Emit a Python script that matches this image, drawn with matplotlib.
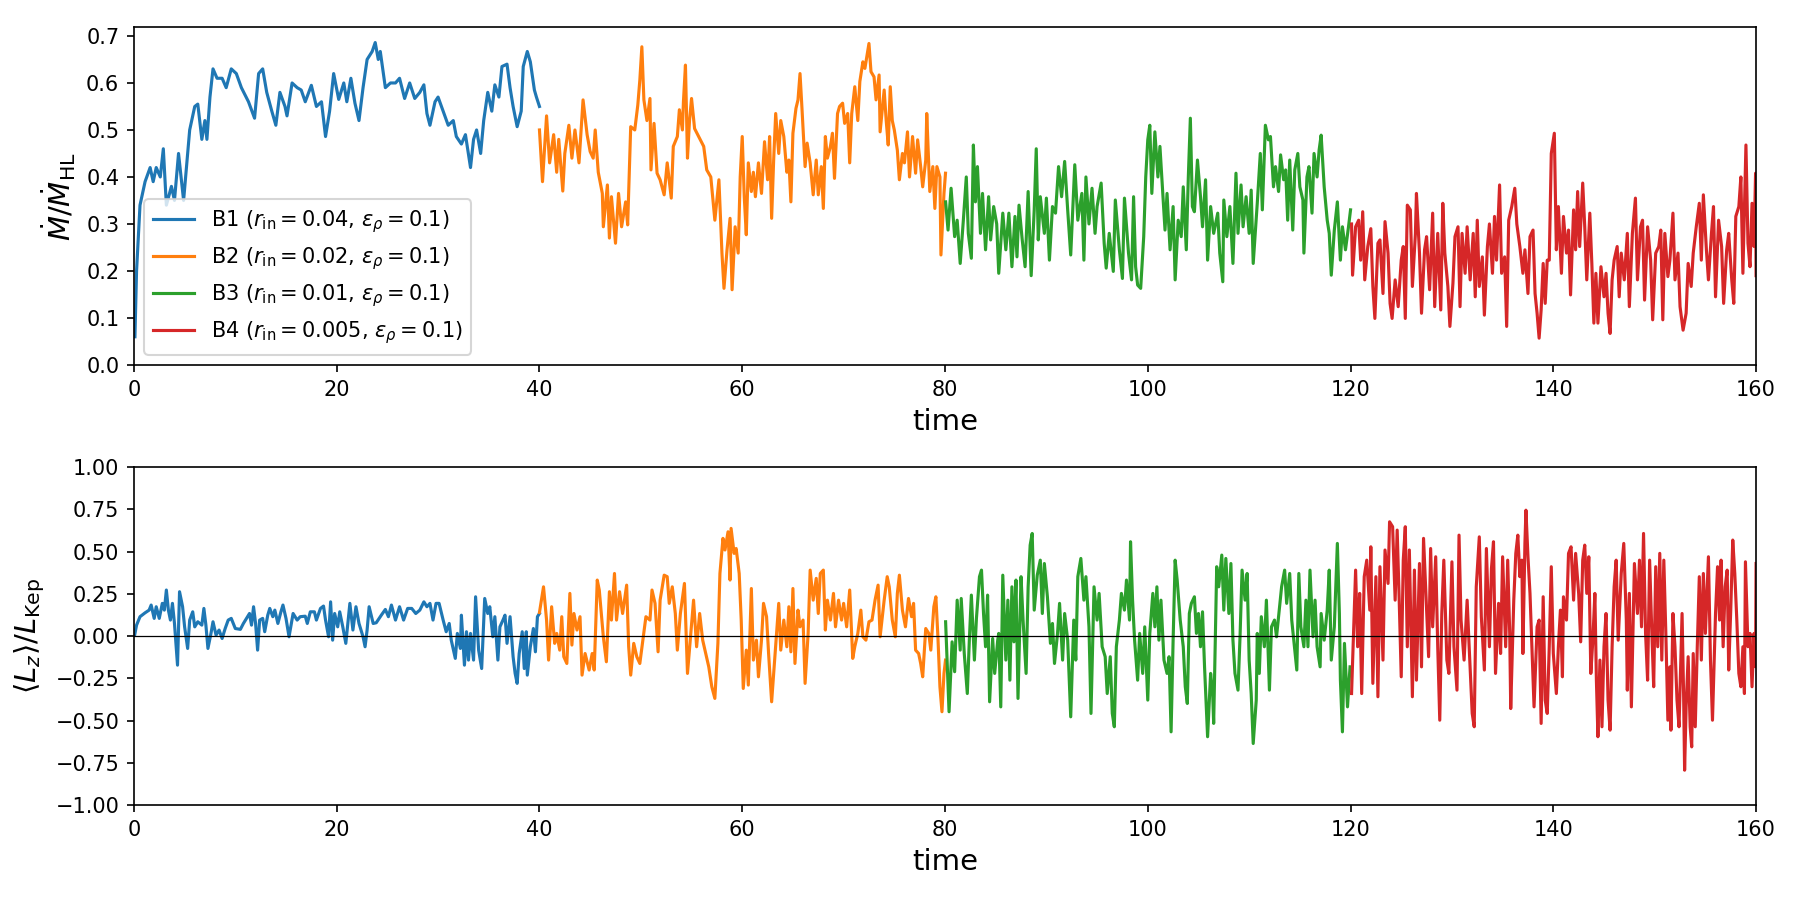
import numpy as np
import matplotlib
matplotlib.use("Agg")
import matplotlib.pyplot as plt

# accretion rate, (time, Mdot/Mdot_HL)
b1_mdot = [(0.1, 0.06), (0.26, 0.20), (0.6, 0.34), (1.1, 0.39), (1.6, 0.42), (1.9, 0.39), (2.2, 0.42),
           (2.6, 0.40), (2.9, 0.46), (3.2, 0.34), (3.7, 0.38), (4.0, 0.35), (4.4, 0.45), (4.9, 0.35),
           (5.5, 0.50), (6.0, 0.55), (6.3, 0.555), (6.7, 0.48), (7.0, 0.52), (7.2, 0.48), (7.5, 0.57),
           (7.8, 0.63), (8.2, 0.61), (8.7, 0.61), (9.1, 0.59), (9.6, 0.63), (10.1, 0.62), (10.6, 0.59),
           (11.3, 0.56), (11.9, 0.525), (12.3, 0.62), (12.7, 0.63), (13.1, 0.58), (13.6, 0.54),
           (14.0, 0.51), (14.4, 0.58), (14.9, 0.55), (15.1, 0.53), (15.6, 0.60), (16.1, 0.59),
           (16.5, 0.585), (16.9, 0.56), (17.5, 0.595), (18.0, 0.55), (18.5, 0.56), (18.9, 0.486),
           (19.3, 0.54), (19.7, 0.62), (20.2, 0.565), (20.7, 0.60), (21.0, 0.56), (21.4, 0.61),
           (21.8, 0.557), (22.2, 0.52), (22.6, 0.59), (23.0, 0.65), (23.5, 0.667), (23.8, 0.686),
           (24.1, 0.65), (24.3, 0.667), (24.8, 0.59), (25.3, 0.60), (25.8, 0.60), (26.2, 0.61),
           (26.7, 0.567), (27.2, 0.60), (27.7, 0.567), (28.2, 0.58), (28.6, 0.596), (28.9, 0.535),
           (29.2, 0.51), (29.7, 0.56), (30.0, 0.57), (30.5, 0.54), (31.0, 0.51), (31.5, 0.52),
           (31.8, 0.486), (32.3, 0.47), (32.7, 0.49), (33.2, 0.42), (33.5, 0.48), (33.8, 0.50),
           (34.2, 0.45), (34.5, 0.52), (34.9, 0.58), (35.3, 0.54), (35.6, 0.596), (36.0, 0.57),
           (36.3, 0.635), (36.8, 0.64), (37.1, 0.59), (37.4, 0.55), (37.8, 0.507), (38.2, 0.54),
           (38.4, 0.635), (38.8, 0.667), (39.1, 0.645), (39.5, 0.585), (39.7, 0.57), (40.0, 0.55)]

b2_mdot = [(40.0, 0.50), (40.3, 0.39), (40.7, 0.53), (41.0, 0.43), (41.4, 0.49), (41.7, 0.41),
           (41.9, 0.48), (42.3, 0.37), (42.5, 0.45), (42.9, 0.51), (43.2, 0.44), (43.5, 0.50),
           (43.9, 0.43), (44.3, 0.564), (44.7, 0.49), (45.0, 0.454), (45.3, 0.44), (45.5, 0.50),
           (45.8, 0.41), (46.2, 0.365), (46.3, 0.294), (46.7, 0.383), (46.9, 0.27), (47.1, 0.358),
           (47.5, 0.259), (47.8, 0.365), (48.1, 0.294), (48.5, 0.347), (48.7, 0.298), (49.0, 0.507),
           (49.4, 0.50), (49.7, 0.553), (49.9, 0.606), (50.1, 0.677), (50.3, 0.564), (50.6, 0.52),
           (50.9, 0.567), (51.0, 0.415), (51.3, 0.514), (51.6, 0.408), (51.9, 0.394), (52.3, 0.362),
           (52.6, 0.43), (53.0, 0.355), (53.2, 0.465), (53.6, 0.486), (53.8, 0.543), (54.1, 0.50),
           (54.2, 0.56), (54.4, 0.638), (54.6, 0.44), (54.8, 0.52), (55.0, 0.567), (55.3, 0.503),
           (55.7, 0.486), (56.2, 0.465), (56.5, 0.415), (56.9, 0.40), (57.3, 0.308), (57.7, 0.394),
           (58.0, 0.238), (58.2, 0.163), (58.5, 0.245), (58.8, 0.312), (59.0, 0.16), (59.3, 0.294),
           (59.6, 0.238), (59.8, 0.40), (60.0, 0.486), (60.2, 0.358), (60.4, 0.277), (60.6, 0.43),
           (60.9, 0.369), (61.1, 0.41), (61.3, 0.358), (61.6, 0.43), (61.9, 0.365), (62.2, 0.475),
           (62.5, 0.394), (62.7, 0.486), (62.9, 0.312), (63.1, 0.436), (63.3, 0.535), (63.6, 0.45),
           (63.8, 0.52), (64.1, 0.486), (64.4, 0.41), (64.6, 0.436), (64.8, 0.347), (65.0, 0.493),
           (65.3, 0.546), (65.5, 0.564), (65.7, 0.62), (65.9, 0.543), (66.2, 0.422), (66.4, 0.472),
           (66.7, 0.43), (67.0, 0.362), (67.3, 0.436), (67.5, 0.362), (67.8, 0.422), (68.0, 0.333),
           (68.2, 0.486), (68.4, 0.44), (68.7, 0.465), (68.9, 0.493), (69.1, 0.397), (69.4, 0.535),
           (69.6, 0.55), (69.9, 0.557), (70.1, 0.514), (70.4, 0.535), (70.6, 0.43), (70.8, 0.535),
           (71.1, 0.592), (71.4, 0.52), (71.6, 0.603), (71.9, 0.645), (72.1, 0.631), (72.5, 0.684),
           (72.7, 0.624), (73.0, 0.613), (73.2, 0.564), (73.5, 0.617), (73.6, 0.496), (74.0, 0.585),
           (74.2, 0.52), (74.4, 0.468), (74.6, 0.592), (74.8, 0.52), (75.0, 0.50), (75.3, 0.457),
           (75.5, 0.394), (75.8, 0.45), (76.0, 0.43), (76.3, 0.496), (76.5, 0.40), (76.8, 0.486),
           (77.1, 0.408), (77.3, 0.479), (77.6, 0.422), (77.8, 0.379), (78.1, 0.436), (78.2, 0.535),
           (78.5, 0.369), (78.8, 0.422), (79.0, 0.333), (79.2, 0.422), (79.5, 0.40), (79.6, 0.234),
           (79.9, 0.365), (80.05, 0.408)]

b3_mdot = [(80.06, 0.347), (80.3, 0.287), (80.6, 0.376), (80.95, 0.273), (81.2, 0.308), (81.5, 0.216),
           (81.8, 0.305), (82.1, 0.40), (82.3, 0.28), (82.6, 0.227), (82.8, 0.468), (83.0, 0.347),
           (83.2, 0.422), (83.5, 0.28), (83.7, 0.365), (84.0, 0.245), (84.3, 0.358), (84.5, 0.266),
           (84.8, 0.337), (85.1, 0.30), (85.3, 0.195), (85.7, 0.323), (86.0, 0.245), (86.3, 0.323),
           (86.6, 0.209), (86.9, 0.316), (87.1, 0.23), (87.3, 0.34), (87.6, 0.27), (87.9, 0.209),
           (88.2, 0.369), (88.5, 0.19), (88.8, 0.33), (89.0, 0.46), (89.2, 0.266), (89.4, 0.358),
           (89.8, 0.28), (90.0, 0.355), (90.3, 0.223), (90.6, 0.337), (90.9, 0.323), (91.2, 0.422),
           (91.5, 0.358), (91.8, 0.433), (92.1, 0.33), (92.4, 0.234), (92.8, 0.426), (93.1, 0.308),
           (93.5, 0.365), (93.7, 0.223), (93.9, 0.40), (94.2, 0.30), (94.5, 0.376), (94.8, 0.28),
           (95.0, 0.337), (95.4, 0.387), (95.7, 0.259), (95.9, 0.206), (96.2, 0.28), (96.6, 0.199),
           (96.8, 0.351), (97.2, 0.245), (97.5, 0.184), (97.7, 0.355), (98.1, 0.238), (98.4, 0.181),
           (98.6, 0.358), (98.8, 0.209), (99.0, 0.17), (99.3, 0.163), (99.6, 0.273), (99.8, 0.40),
           (100.0, 0.479), (100.2, 0.51), (100.4, 0.365), (100.7, 0.496), (101.0, 0.40), (101.2, 0.465),
           (101.4, 0.394), (101.7, 0.287), (101.9, 0.365), (102.2, 0.245), (102.5, 0.337), (102.7, 0.181),
           (103.0, 0.308), (103.3, 0.273), (103.5, 0.379), (103.8, 0.245), (104.0, 0.40), (104.2, 0.525),
           (104.4, 0.337), (104.6, 0.326), (104.9, 0.436), (105.2, 0.358), (105.4, 0.294), (105.7, 0.394),
           (105.9, 0.223), (106.2, 0.337), (106.5, 0.28), (106.9, 0.323), (107.1, 0.238), (107.4, 0.177),
           (107.5, 0.351), (107.8, 0.273), (108.1, 0.337), (108.4, 0.216), (108.7, 0.408), (108.9, 0.28),
           (109.2, 0.383), (109.4, 0.294), (109.7, 0.358), (110.0, 0.28), (110.2, 0.372), (110.4, 0.216),
           (110.8, 0.344), (111.1, 0.45), (111.3, 0.33), (111.6, 0.51), (111.9, 0.479), (112.1, 0.486),
           (112.4, 0.379), (112.6, 0.422), (112.9, 0.369), (113.1, 0.447), (113.4, 0.394), (113.6, 0.415),
           (113.8, 0.308), (114.0, 0.436), (114.3, 0.287), (114.5, 0.415), (114.8, 0.45), (115.0, 0.379),
           (115.3, 0.351), (115.4, 0.238), (115.7, 0.40), (115.9, 0.422), (116.2, 0.323), (116.4, 0.45),
           (116.7, 0.40), (116.9, 0.457), (117.1, 0.489), (117.4, 0.379), (117.7, 0.308), (117.9, 0.28),
           (118.1, 0.191), (118.4, 0.287), (118.7, 0.347), (119.0, 0.223), (119.2, 0.294), (119.5, 0.245),
           (119.8, 0.294), (120.0, 0.33)]

b4_mdot = [(120.1, 0.30), (120.2, 0.191), (120.5, 0.294), (120.8, 0.308), (121.0, 0.223), (121.2, 0.326),
           (121.4, 0.181), (121.7, 0.252), (122.0, 0.29), (122.2, 0.167), (122.4, 0.099), (122.7, 0.259),
           (122.9, 0.266), (123.2, 0.152), (123.4, 0.305), (123.7, 0.238), (123.9, 0.131), (124.1, 0.099),
           (124.4, 0.181), (124.7, 0.124), (125.0, 0.223), (125.2, 0.252), (125.4, 0.099), (125.6, 0.34),
           (125.9, 0.33), (126.1, 0.167), (126.4, 0.28), (126.5, 0.365), (126.8, 0.238), (127.0, 0.11),
           (127.3, 0.245), (127.5, 0.273), (127.8, 0.16), (128.1, 0.323), (128.3, 0.124), (128.6, 0.28),
           (128.9, 0.117), (129.1, 0.344), (129.3, 0.238), (129.6, 0.167), (129.8, 0.082), (130.1, 0.174),
           (130.3, 0.273), (130.6, 0.294), (130.8, 0.124), (131.0, 0.28), (131.3, 0.195), (131.5, 0.294),
           (131.8, 0.181), (132.1, 0.28), (132.3, 0.145), (132.5, 0.308), (132.7, 0.167), (133.0, 0.23),
           (133.2, 0.106), (133.5, 0.252), (133.7, 0.30), (134.0, 0.195), (134.2, 0.316), (134.4, 0.223),
           (134.7, 0.383), (134.9, 0.195), (135.2, 0.23), (135.4, 0.082), (135.6, 0.308), (135.9, 0.337),
           (136.2, 0.376), (136.4, 0.30), (136.7, 0.252), (137.0, 0.195), (137.2, 0.245), (137.5, 0.152),
           (137.7, 0.273), (138.0, 0.287), (138.2, 0.152), (138.4, 0.11), (138.6, 0.057), (138.8, 0.117),
           (139.0, 0.216), (139.2, 0.131), (139.4, 0.223), (139.6, 0.223), (139.8, 0.45), (140.1, 0.493),
           (140.3, 0.245), (140.5, 0.337), (140.8, 0.195), (141.0, 0.316), (141.3, 0.238), (141.5, 0.287),
           (141.7, 0.149), (142.0, 0.33), (142.2, 0.245), (142.4, 0.369), (142.6, 0.252), (142.9, 0.387),
           (143.1, 0.294), (143.3, 0.181), (143.6, 0.323), (143.8, 0.216), (144.0, 0.089), (144.2, 0.195),
           (144.4, 0.089), (144.7, 0.209), (145.0, 0.145), (145.2, 0.195), (145.4, 0.11), (145.6, 0.067),
           (145.8, 0.181), (146.0, 0.223), (146.3, 0.252), (146.5, 0.145), (146.7, 0.238), (147.0, 0.181),
           (147.3, 0.28), (147.5, 0.124), (147.8, 0.28), (148.1, 0.355), (148.3, 0.181), (148.6, 0.294),
           (148.8, 0.308), (149.0, 0.138), (149.3, 0.294), (149.6, 0.223), (149.8, 0.096), (150.1, 0.238),
           (150.4, 0.252), (150.6, 0.287), (150.8, 0.096), (151.0, 0.28), (151.3, 0.188), (151.5, 0.223),
           (151.8, 0.323), (152.0, 0.181), (152.3, 0.238), (152.5, 0.124), (152.8, 0.074), (153.1, 0.11),
           (153.3, 0.216), (153.6, 0.167), (153.8, 0.238), (154.1, 0.294), (154.4, 0.344), (154.6, 0.223),
           (154.8, 0.362), (155.1, 0.245), (155.3, 0.181), (155.6, 0.28), (155.8, 0.337), (156.0, 0.145),
           (156.3, 0.308), (156.6, 0.252), (156.8, 0.131), (157.1, 0.245), (157.3, 0.28), (157.6, 0.181),
           (157.8, 0.131), (158.0, 0.316), (158.3, 0.337), (158.5, 0.40), (158.7, 0.195), (158.9, 0.379),
           (159.0, 0.468), (159.2, 0.259), (159.4, 0.209), (159.6, 0.344), (159.8, 0.252), (159.95, 0.408),
           (160.0, 0.19)]

# angular momentum, (time, <Lz>/L_Kep)
b1_lz = [(0.07, 0.006), (0.26, 0.065), (0.6, 0.115), (1.1, 0.138), (1.5, 0.154), (1.7, 0.184), (2.0, 0.105),
         (2.2, 0.174), (2.5, 0.105), (2.8, 0.194), (3.0, 0.154), (3.2, 0.273), (3.4, 0.154), (3.6, 0.095),
         (3.8, 0.194), (4.0, 0.075), (4.3, -0.172), (4.5, 0.263), (4.8, 0.174), (5.0, 0.055), (5.3, -0.073),
         (5.5, 0.095), (5.8, 0.144), (6.0, 0.055), (6.3, 0.085), (6.7, 0.065), (6.9, 0.164), (7.1, 0.065),
         (7.3, -0.073), (7.6, 0.016), (7.8, 0.085), (8.1, 0.006), (8.4, 0.036), (8.7, -0.014), (9.0, 0.045),
         (9.3, 0.095), (9.6, 0.105), (10.0, 0.045), (10.5, 0.04), (10.8, 0.075), (11.1, 0.105), (11.4, 0.134),
         (11.6, 0.065), (11.8, 0.174), (12.0, 0.075), (12.2, -0.083), (12.4, 0.095), (12.7, 0.105),
         (12.9, 0.026), (13.2, 0.124), (13.4, 0.164), (13.7, 0.115), (13.9, 0.154), (14.2, 0.075),
         (14.5, 0.144), (14.7, 0.184), (15.0, 0.105), (15.3, -0.004), (15.7, 0.134), (16.1, 0.095),
         (16.4, 0.115), (16.9, 0.118), (17.1, 0.075), (17.4, 0.144), (17.8, 0.144), (18.0, 0.095),
         (18.4, 0.164), (18.7, 0.178), (18.9, 0.095), (19.2, -0.004), (19.4, 0.203), (19.6, -0.024),
         (19.8, 0.134), (20.1, 0.055), (20.3, 0.144), (20.6, 0.055), (20.9, -0.043), (21.3, 0.194),
         (21.6, 0.036), (21.9, 0.174), (22.2, 0.075), (22.6, -0.004), (22.8, -0.063), (23.0, 0.036),
         (23.2, 0.174), (23.6, 0.075), (23.9, 0.079), (24.4, 0.124), (24.8, 0.158), (25.1, 0.115),
         (25.4, 0.184), (25.8, 0.095), (26.2, 0.174), (26.6, 0.095), (27.0, 0.164), (27.4, 0.164),
         (27.8, 0.134), (28.2, 0.154), (28.6, 0.203), (28.9, 0.174), (29.2, 0.194), (29.5, 0.095),
         (29.8, 0.194), (30.1, 0.194), (30.5, 0.095), (30.8, 0.026), (31.1, 0.075), (31.3, -0.024),
         (31.7, -0.132), (31.9, 0.016), (32.2, -0.073), (32.3, 0.124), (32.6, -0.172), (32.8, 0.026),
         (33.0, -0.142), (33.2, 0.016), (33.5, -0.142), (33.7, 0.233), (34.0, -0.083), (34.3, -0.192),
         (34.6, 0.223), (34.9, 0.134), (35.1, 0.174), (35.4, -0.004), (35.6, 0.115), (35.9, -0.142),
         (36.1, 0.055), (36.4, 0.095), (36.6, 0.124), (36.8, -0.043), (37.1, 0.115), (37.4, -0.122),
         (37.6, -0.221), (37.8, -0.28), (38.0, -0.103), (38.3, 0.026), (38.5, -0.192), (38.7, 0.026),
         (38.8, -0.231), (39.1, -0.063), (39.4, 0.045), (39.6, -0.093), (39.8, 0.115), (40.0, 0.134)]

b2_lz = [(40.0, 0.14), (40.4, 0.292), (40.7, 0.095), (40.9, -0.142), (41.2, 0.174), (41.5, -0.043),
         (41.7, 0.016), (42.0, -0.083), (42.2, 0.115), (42.4, -0.122), (42.7, -0.162), (43.0, 0.253),
         (43.2, -0.053), (43.4, 0.134), (43.7, 0.036), (44.0, 0.115), (44.2, -0.231), (44.5, -0.103),
         (44.9, -0.201), (45.2, -0.103), (45.4, -0.201), (45.7, 0.332), (45.9, 0.273), (46.3, -0.004),
         (46.6, -0.152), (46.9, 0.263), (47.1, 0.095), (47.4, 0.371), (47.6, 0.095), (47.9, 0.263),
         (48.2, 0.134), (48.6, 0.302), (48.8, -0.063), (49.0, -0.231), (49.3, -0.043), (49.6, -0.122),
         (49.9, -0.162), (50.2, -0.024), (50.5, 0.115), (50.9, 0.095), (51.1, 0.273), (51.4, 0.194),
         (51.7, -0.093), (51.9, 0.213), (52.3, 0.361), (52.6, 0.352), (52.8, 0.194), (53.1, 0.292),
         (53.4, 0.134), (53.6, -0.083), (53.9, 0.134), (54.3, 0.312), (54.6, -0.221), (54.9, -0.004),
         (55.2, 0.213), (55.5, -0.063), (55.8, 0.134), (56.1, -0.024), (56.4, -0.103), (56.7, -0.182),
         (57.0, -0.30), (57.3, -0.369), (57.6, -0.043), (57.8, 0.371), (58.1, 0.579), (58.3, 0.51),
         (58.6, 0.618), (58.8, 0.332), (58.9, 0.638), (59.2, 0.49), (59.4, 0.519), (59.7, 0.371),
         (59.9, 0.095), (60.1, -0.31), (60.4, -0.083), (60.6, -0.29), (60.9, 0.282), (61.1, -0.142),
         (61.4, -0.024), (61.6, -0.241), (61.9, -0.024), (62.1, 0.194), (62.4, 0.115), (62.6, -0.103),
         (62.9, -0.389), (63.2, -0.142), (63.4, 0.016), (63.6, 0.194), (63.8, -0.083), (64.1, 0.095),
         (64.4, -0.063), (64.6, 0.174), (64.8, -0.093), (65.0, 0.282), (65.2, -0.162), (65.5, 0.154),
         (65.7, 0.055), (66.0, 0.095), (66.2, -0.28), (66.5, 0.016), (66.7, 0.391), (67.0, 0.213),
         (67.3, 0.342), (67.5, 0.134), (67.7, 0.371), (68.0, 0.391), (68.2, 0.036), (68.4, 0.213),
         (68.7, 0.095), (69.0, 0.253), (69.2, 0.055), (69.5, 0.213), (69.8, 0.095), (70.0, 0.194),
         (70.3, 0.055), (70.6, 0.273), (70.9, -0.132), (71.1, -0.063), (71.4, 0.016), (71.7, 0.154),
         (71.9, -0.004), (72.2, -0.024), (72.5, 0.085), (72.8, 0.095), (73.1, 0.213), (73.4, 0.302),
         (73.6, -0.004), (74.0, 0.213), (74.3, 0.352), (74.5, 0.292), (74.8, 0.095), (75.1, -0.004),
         (75.3, 0.253), (75.5, 0.361), (75.8, 0.154), (76.1, 0.055), (76.4, 0.223), (76.7, 0.115),
         (76.9, 0.194), (77.1, -0.083), (77.4, -0.103), (77.6, -0.162), (77.8, -0.241), (78.1, 0.045),
         (78.4, 0.016), (78.6, -0.083), (78.9, 0.174), (79.1, 0.233), (79.3, -0.004), (79.5, -0.30),
         (79.7, -0.448), (79.9, -0.221), (80.05, -0.142)]

b3_lz = [(80.06, 0.085), (80.4, -0.448), (80.7, -0.034), (80.95, -0.211), (81.2, 0.213), (81.5, -0.083),
         (81.6, 0.223), (81.9, -0.103), (82.2, -0.34), (82.4, -0.024), (82.6, 0.243), (82.9, -0.142),
         (83.1, 0.105), (83.4, 0.352), (83.6, 0.391), (83.8, 0.134), (84.0, -0.063), (84.2, 0.243),
         (84.4, -0.389), (84.7, -0.014), (84.9, -0.221), (85.2, -0.024), (85.3, 0.016), (85.5, -0.419),
         (85.7, 0.361), (86.0, -0.142), (86.2, 0.213), (86.4, -0.261), (86.6, 0.292), (86.8, -0.034),
         (87.0, 0.332), (87.2, -0.369), (87.5, 0.352), (87.7, 0.095), (88.0, -0.221), (88.2, 0.292),
         (88.4, 0.539), (88.6, 0.608), (88.8, 0.154), (89.1, 0.361), (89.4, 0.45), (89.6, 0.134),
         (89.8, 0.43), (90.1, 0.233), (90.4, -0.043), (90.6, 0.075), (90.8, -0.162), (91.1, 0.016),
         (91.3, 0.194), (91.6, -0.142), (91.8, 0.134), (92.1, -0.024), (92.4, -0.478), (92.7, 0.095),
         (92.9, -0.142), (93.1, 0.352), (93.4, 0.46), (93.7, 0.213), (93.9, 0.352), (94.2, 0.055),
         (94.4, -0.458), (94.7, 0.292), (95.0, 0.095), (95.2, 0.253), (95.5, -0.063), (95.8, -0.122),
         (96.0, -0.34), (96.3, -0.122), (96.5, -0.458), (96.7, -0.537), (96.9, -0.063), (97.2, 0.095),
         (97.4, 0.253), (97.7, 0.154), (97.9, 0.332), (98.2, 0.095), (98.3, 0.559), (98.5, 0.213),
         (98.7, -0.024), (99.0, -0.261), (99.2, 0.016), (99.5, -0.221), (99.7, 0.055), (100.0, -0.379),
         (100.2, 0.016), (100.5, 0.253), (100.7, 0.055), (100.9, 0.292), (101.1, -0.024), (101.3, 0.213),
         (101.6, -0.142), (101.9, -0.221), (102.1, -0.122), (102.3, -0.567), (102.5, -0.024), (102.7, 0.45),
         (102.9, 0.332), (103.2, 0.095), (103.5, -0.063), (103.7, -0.30), (103.9, -0.399), (104.1, 0.134),
         (104.3, 0.194), (104.6, 0.233), (104.8, 0.016), (105.0, 0.134), (105.2, -0.063), (105.4, 0.144),
         (105.6, -0.182), (105.9, -0.596), (106.2, -0.221), (106.4, -0.34), (106.5, -0.517), (106.8, 0.411),
         (107.0, 0.292), (107.3, 0.48), (107.5, 0.154), (107.7, 0.46), (108.0, 0.134), (108.2, 0.43),
         (108.4, -0.024), (108.6, -0.221), (108.9, -0.32), (109.1, -0.004), (109.3, 0.391), (109.6, 0.213),
         (109.8, 0.371), (110.0, -0.142), (110.2, -0.34), (110.4, -0.636), (110.7, -0.379), (110.8, 0.016),
         (111.0, -0.221), (111.2, 0.115), (111.5, -0.063), (111.7, 0.213), (112.0, -0.32), (112.2, 0.055),
         (112.5, 0.095), (112.7, -0.004), (113.0, 0.174), (113.2, 0.292), (113.5, 0.391), (113.7, 0.194),
         (114.0, 0.371), (114.2, 0.095), (114.4, -0.024), (114.7, -0.201), (114.9, 0.371), (115.1, 0.055),
         (115.4, -0.063), (115.6, 0.213), (115.8, -0.063), (116.0, 0.391), (116.3, -0.004), (116.5, 0.213),
         (116.7, -0.063), (117.0, -0.182), (117.1, 0.134), (117.4, -0.024), (117.7, 0.154), (117.9, 0.391),
         (118.1, -0.142), (118.4, 0.055), (118.7, 0.549), (118.9, 0.134), (119.0, -0.261), (119.2, -0.567),
         (119.4, -0.043), (119.7, -0.419), (119.95, -0.182)]

b4_lz = [(120.1, -0.34), (120.5, 0.391), (120.7, -0.063), (120.9, 0.253), (121.1, -0.34), (121.35, 0.352),
         (121.6, 0.45), (121.9, 0.154), (122.0, 0.529), (122.2, -0.28), (122.5, 0.352), (122.7, -0.359),
         (122.9, 0.411), (123.2, -0.142), (123.4, 0.51), (123.7, 0.312), (123.85, 0.677), (124.15, 0.648),
         (124.4, 0.213), (124.6, 0.628), (124.8, 0.213), (125.0, -0.241), (125.2, 0.45), (125.4, 0.648),
         (125.6, -0.063), (125.8, 0.51), (126.1, -0.359), (126.3, 0.391), (126.5, -0.261), (126.8, 0.43),
         (127.0, -0.182), (127.2, 0.579), (127.5, 0.154), (127.7, -0.122), (127.9, 0.519), (128.1, 0.055),
         (128.4, 0.47), (128.6, -0.063), (128.8, -0.498), (129.0, 0.134), (129.2, 0.45), (129.5, -0.142),
         (129.7, -0.221), (130.0, 0.44), (130.2, -0.063), (130.5, -0.32), (130.7, 0.598), (130.9, 0.095),
         (131.2, -0.142), (131.5, 0.213), (131.7, -0.063), (132.0, -0.458), (132.2, -0.537), (132.4, 0.292),
         (132.7, 0.588), (132.9, 0.115), (133.2, -0.201), (133.4, 0.519), (133.7, -0.063), (133.9, 0.401),
         (134.1, 0.559), (134.3, -0.221), (134.6, 0.194), (134.8, -0.103), (135.0, 0.47), (135.3, -0.063),
         (135.5, 0.45), (135.7, 0.016), (135.8, -0.429), (136.1, 0.213), (136.3, 0.49), (136.5, 0.598),
         (136.7, 0.352), (136.9, 0.45), (137.0, -0.103), (137.2, 0.549), (137.3, 0.746), (137.5, 0.47),
         (137.7, 0.253), (138.0, -0.241), (138.1, -0.419), (138.4, 0.055), (138.6, 0.095), (138.8, -0.517),
         (139.0, 0.233), (139.2, -0.379), (139.4, -0.458), (139.6, -0.063), (139.8, 0.411), (140.0, -0.103),
         (140.3, -0.34), (140.5, -0.063), (140.7, 0.154), (140.9, -0.241), (141.0, 0.233), (141.3, 0.095),
         (141.5, 0.49), (141.75, 0.529), (142.0, 0.213), (142.2, 0.49), (142.5, 0.253), (142.7, -0.034),
         (142.9, 0.45), (143.1, 0.539), (143.3, 0.253), (143.5, 0.47), (143.7, -0.221), (143.9, -0.024),
         (144.1, 0.253), (144.25, -0.261), (144.4, -0.596), (144.6, -0.142), (144.8, -0.537), (145.0, -0.063),
         (145.2, 0.134), (145.4, -0.379), (145.6, -0.557), (145.8, -0.063), (146.0, 0.292), (146.2, 0.45),
         (146.4, -0.024), (146.7, 0.371), (146.95, 0.549), (147.2, 0.095), (147.3, -0.32), (147.5, 0.253),
         (147.7, -0.419), (148.0, 0.43), (148.3, 0.134), (148.5, 0.45), (148.7, 0.055), (148.9, 0.608),
         (149.1, 0.016), (149.3, -0.261), (149.5, 0.45), (149.7, 0.055), (149.9, -0.30), (150.1, 0.411),
         (150.3, -0.063), (150.5, 0.49), (150.7, -0.142), (150.9, 0.45), (151.1, 0.016), (151.3, -0.498),
         (151.5, -0.182), (151.6, -0.557), (151.8, 0.134), (152.0, -0.063), (152.2, -0.379), (152.4, -0.537),
         (152.7, 0.134), (152.85, -0.34), (152.95, -0.794), (153.1, -0.419), (153.3, -0.122), (153.5, -0.537),
         (153.65, -0.656), (153.8, -0.103), (154.0, -0.537), (154.2, -0.063), (154.4, 0.352), (154.6, -0.142),
         (154.8, 0.371), (155.0, 0.016), (155.3, 0.47), (155.5, -0.142), (155.7, -0.498), (156.0, 0.134),
         (156.2, 0.411), (156.4, 0.095), (156.55, 0.45), (156.75, -0.063), (156.95, 0.292), (157.15, 0.391),
         (157.3, -0.201), (157.5, 0.154), (157.7, 0.569), (157.9, 0.371), (158.1, 0.095), (158.3, -0.221),
         (158.5, -0.30), (158.7, -0.063), (158.85, -0.34), (158.95, 0.44), (159.2, -0.063), (159.4, 0.016),
         (159.6, -0.30), (159.8, 0.016), (159.95, -0.182), (160.0, 0.43)]

labels = [r'B1 ($r_{\rm in}=0.04$, $\varepsilon_\rho=0.1$)',
          r'B2 ($r_{\rm in}=0.02$, $\varepsilon_\rho=0.1$)',
          r'B3 ($r_{\rm in}=0.01$, $\varepsilon_\rho=0.1$)',
          r'B4 ($r_{\rm in}=0.005$, $\varepsilon_\rho=0.1$)']
colors = ['C0', 'C1', 'C2', 'C3']

fig, (ax1, ax2) = plt.subplots(2, 1, figsize=(12, 6), dpi=150)
plt.subplots_adjust(left=0.0744, right=0.9756, top=0.9697, bottom=0.1056, hspace=0.303)

for run, lab, c in zip([b1_mdot, b2_mdot, b3_mdot, b4_mdot], labels, colors):
    t, v = np.array(run).T
    ax1.plot(t, v, color=c, label=lab, lw=1.5)

for run, c in zip([b1_lz, b2_lz, b3_lz, b4_lz], colors):
    t, v = np.array(run).T
    ax2.plot(t, v, color=c, lw=1.5)
ax2.axhline(0, color='k', lw=0.6)

ax1.set_xlim(0, 160)
ax1.set_ylim(0, 0.7185)
ax1.set_xlabel('time', fontsize=14)
ax1.set_ylabel(r'$\dot{M}/\dot{M}_{\rm HL}$', fontsize=14)
ax1.legend(loc='lower left')

ax2.set_xlim(0, 160)
ax2.set_ylim(-1, 1)
ax2.set_xlabel('time', fontsize=14)
ax2.set_ylabel(r'$\langle L_z\rangle/L_{\rm Kep}$', fontsize=14)

plt.savefig('out.png')
